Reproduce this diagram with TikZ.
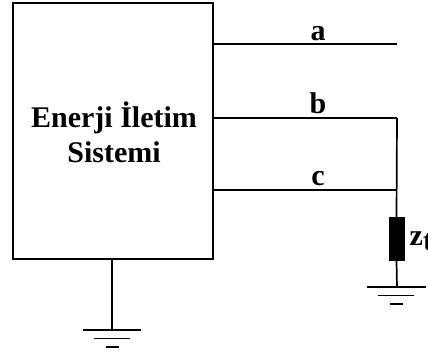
\documentclass[tikz,border=0pt]{standalone}
\usepackage{fontspec}
\setmainfont{Liberation Serif}
\tikzset{
  wire/.style={line width=1.7pt,black},
  lbl/.style={font=\fontsize{30}{35}\selectfont\bfseries,inner sep=0pt,align=center,anchor=base},
  wlbl/.style={font=\fontsize{30}{30}\selectfont\bfseries,inner sep=0pt,anchor=base}
}
\begin{document}
\begin{tikzpicture}[x=1pt,y=-1pt]
\useasboundingbox (0,0) rectangle (428,356);
\clip (0,0) rectangle (428,356);
\node[draw,line width=1.7pt,minimum width=200pt,minimum height=256pt,inner sep=0pt,anchor=north west] (box) at (12,2) {};
\node[lbl] (title) at (114,127) {Enerji İletim};
\node[lbl] (title2) at (114,162) {Sistemi};
\coordinate (aS) at (212,44);
\coordinate (aE) at (397,44);
\coordinate (bS) at (212,118);
\coordinate (bE) at (397,118);
\coordinate (cS) at (212,190);
\coordinate (cE) at (397,190);
\draw[wire] (aS) -- (aE);
\draw[wire] (bS) -- (bE);
\draw[wire] (cS) -- (cE);
\node[draw,fill=black,minimum width=15pt,minimum height=43pt,inner sep=0pt,line width=1pt] (zt) at (396.5,239) {};
\draw[wire] (bE) -- (zt.north);
\coordinate (gR) at (397,287);
\draw[wire] (zt.south) -- (gR);
\coordinate (gL) at (112,330);
\draw[wire] (112,258) -- (gL);
\draw[wire] (83,330) -- (141,330);
\draw[wire] (94,338.5) -- (130,338.5);
\draw[wire] (106,347) -- (119,347);
\draw[wire] (367,287) -- (426,287);
\draw[wire] (378,295.5) -- (414,295.5);
\draw[wire] (390,304) -- (403,304);
\node[wlbl] (a) at (318,40) {a};
\node[wlbl] (b) at (318,113) {b};
\node[wlbl] (c) at (318,185) {c};
\node[wlbl,anchor=base west] (z) at (409.5,245) {z\raisebox{-5pt}{t}};
\end{tikzpicture}
\end{document}
